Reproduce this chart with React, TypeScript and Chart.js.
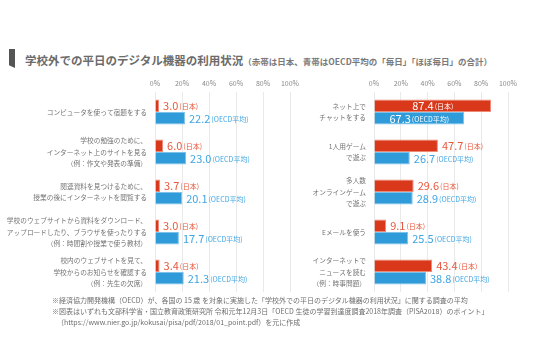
import React, { useEffect, useRef } from "react";
import { Chart, registerables } from "chart.js";

Chart.register(...registerables);

const leftCategories: string[][] = [
  ["コンピュータを使って宿題をする"],
  ["学校の勉強のために、", "インターネット上のサイトを見る", "（例：作文や発表の準備）"],
  ["関連資料を見つけるために、", "授業の後にインターネットを閲覧する"],
  ["学校のウェブサイトから資料をダウンロード、", "アップロードしたり、ブラウザを使ったりする", "（例：時間割や授業で使う教材）"],
  ["校内のウェブサイトを見て、", "学校からのお知らせを確認する", "（例：先生の欠席）"],
];
const leftJapan: number[] = [3.0, 6.0, 3.7, 3.0, 3.4];
const leftOECD: number[] = [22.2, 23.0, 20.1, 17.7, 21.3];

const rightCategories: string[][] = [
  ["ネット上で", "チャットをする"],
  ["1人用ゲーム", "で遊ぶ"],
  ["多人数", "オンラインゲーム", "で遊ぶ"],
  ["Eメールを使う"],
  ["インターネットで", "ニュースを読む", "（例：時事問題）"],
];
const rightJapan: number[] = [87.4, 47.7, 29.6, 9.1, 43.4];
const rightOECD: number[] = [67.3, 26.7, 28.9, 25.5, 38.8];

const xTicks: number[] = [0, 20, 40, 60, 80, 100];
const seriesNames: string[] = ["日本", "OECD平均"];

const FONT = "'Noto Sans CJK JP', 'Noto Sans', sans-serif";
const RED = "#d9381b";
const BLUE = "#2f9bd9";
const RED_TXT = "#e8573c";
const BLUE_TXT = "#3ea5e4";

const labelPlugin = {
  id: "barLabels",
  afterDatasetsDraw(chart: any) {
    const ctx = chart.ctx;
    chart.data.datasets.forEach((ds: any, di: number) => {
      const meta = chart.getDatasetMeta(di);
      meta.data.forEach((bar: any, i: number) => {
        const v = ds.data[i] as number;
        const num = v.toFixed(1);
        const suffix = "(" + seriesNames[di] + ")";
        ctx.save();
        ctx.textBaseline = "middle";
        ctx.font = `11px ${FONT}`;
        const w1 = ctx.measureText(num).width;
        ctx.font = `7px ${FONT}`;
        const w2 = ctx.measureText(suffix).width;
        const total = w1 + 1 + w2;
        const inside = v > 60;
        let x: number;
        if (inside) {
          x = (bar.base + bar.x) / 2 - total / 2;
          ctx.fillStyle = "#ffffff";
        } else {
          x = bar.x + 4;
          ctx.fillStyle = di === 0 ? RED_TXT : BLUE_TXT;
        }
        const y = bar.y + 0.5;
        ctx.textAlign = "left";
        ctx.font = `11px ${FONT}`;
        ctx.fillText(num, x, y);
        ctx.font = `7px ${FONT}`;
        ctx.fillText(suffix, x + w1 + 1, y + 0.5);
        ctx.restore();
      });
    });
  },
};

function makeConfig(labels: string[][], jp: number[], oecd: number[], yWidth: number, padRight: number): any {
  return {
    type: "bar",
    data: {
      labels,
      datasets: [
        {
          label: seriesNames[0],
          data: jp,
          backgroundColor: RED,
          borderColor: "#ee8a76",
          borderWidth: 1,
          barPercentage: 1.0,
          categoryPercentage: 0.63,
        },
        {
          label: seriesNames[1],
          data: oecd,
          backgroundColor: BLUE,
          borderColor: "#7cc2ea",
          borderWidth: 1,
          barPercentage: 1.0,
          categoryPercentage: 0.63,
        },
      ],
    },
    options: {
      indexAxis: "y",
      animation: false,
      responsive: false,
      maintainAspectRatio: false,
      layout: { padding: { left: 0, right: padRight, top: 0, bottom: 8 } },
      plugins: { legend: { display: false }, tooltip: { enabled: false } },
      scales: {
        x: {
          position: "top",
          min: 0,
          max: 100,
          afterBuildTicks: (scale: any) => {
            scale.ticks = xTicks.map((v) => ({ value: v }));
          },
          afterFit: (scale: any) => {
            scale.height = 17;
            scale.paddingLeft = 0;
            scale.paddingRight = 0;
            scale.paddingTop = 0;
            scale.paddingBottom = 0;
          },
          grid: { color: "#e9e9e9", drawTicks: false, lineWidth: 1 },
          border: { display: false },
          ticks: {
            padding: 4,
            color: "#8a8a8a",
            font: { family: FONT, size: 7 },
            callback: (v: any) => v + "%",
          },
        },
        y: {
          afterFit: (scale: any) => {
            scale.width = yWidth;
            scale.paddingLeft = 0;
            scale.paddingRight = 0;
            scale.paddingTop = 0;
            scale.paddingBottom = 0;
          },
          grid: { display: false, drawTicks: false },
          border: { display: false },
          ticks: {
            padding: 8,
            color: "#747474",
            font: { family: FONT, size: 6.7, lineHeight: 1.65 },
          },
        },
      },
    },
    plugins: [labelPlugin],
  };
}

function BarChart(props: { labels: string[][]; jp: number[]; oecd: number[]; yWidth: number; padRight: number; width: number; height: number }) {
  const ref = useRef<HTMLCanvasElement | null>(null);
  useEffect(() => {
    if (!ref.current) return;
    const chart = new Chart(ref.current, makeConfig(props.labels, props.jp, props.oecd, props.yWidth, props.padRight));
    return () => chart.destroy();
  }, []);
  return <canvas ref={ref} width={props.width} height={props.height} style={{ width: props.width, height: props.height, display: "block" }} />;
}

export default function App() {
  useEffect(() => {
    document.body.style.margin = "0";
  }, []);
  return (
    <div style={{ position: "fixed", left: 0, top: 0, width: 539, height: 349, background: "#ffffff", fontFamily: FONT, overflow: "hidden" }}>
      <div style={{ position: "absolute", left: 9, top: 49, width: 6, height: 19, background: "#555555", clipPath: "polygon(0 0, 100% 0, 100% 100%, 0 85%)" }} />
      <div style={{ position: "absolute", left: 25, top: 48, whiteSpace: "nowrap", color: "#6b6b6b", lineHeight: "20px" }}>
        <span style={{ fontSize: 11.5, fontWeight: 700 }}>学校外での平日のデジタル機器の利用状況</span>
        <span style={{ fontSize: 8.5, fontWeight: 700, color: "#7a7a7a" }}>（赤帯は日本、青帯はOECD平均の「毎日」「ほぼ毎日」の合計）</span>
      </div>
      <div style={{ position: "absolute", left: 0, top: 75 }}>
        <BarChart labels={leftCategories} jp={leftJapan} oecd={leftOECD} yWidth={155} padRight={10} width={300} height={225} />
      </div>
      <div style={{ position: "absolute", left: 270, top: 75 }}>
        <BarChart labels={rightCategories} jp={rightJapan} oecd={rightOECD} yWidth={104} padRight={31} width={269} height={225} />
      </div>
      <div style={{ position: "absolute", left: 52, top: 295, fontSize: 7, lineHeight: "11px", color: "#6e6e6e", whiteSpace: "nowrap" }}>
        <div>※経済協力開発機構（OECD）が、各国の 15 歳 を対象に実施した「学校外での平日のデジタル機器の利用状況」に関する調査の平均</div>
        <div>※図表はいずれも文部科学省・国立教育政策研究所 令和元年12月3日「OECD 生徒の学習到達度調査2018年調査（PISA2018）のポイント」</div>
        <div style={{ paddingLeft: 5 }}>（https://www.nier.go.jp/kokusai/pisa/pdf/2018/01_point.pdf）を元に作成</div>
      </div>
    </div>
  );
}
